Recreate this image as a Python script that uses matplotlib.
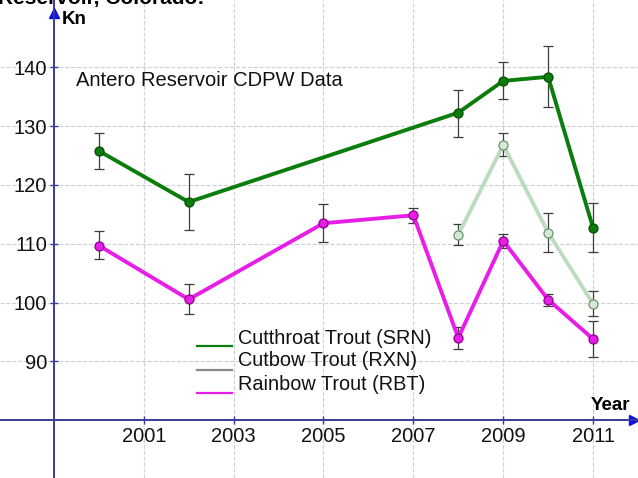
import numpy as np
import matplotlib.pyplot as plt
from matplotlib.lines import Line2D

plt.rcParams['font.family'] = ['Liberation Sans', 'DejaVu Sans']

# Cutthroat Trout (SRN)
years_srn = [2000, 2002, 2008, 2009, 2010, 2011]
kn_srn = [125.8, 117.1, 132.3, 137.7, 138.4, 112.7]
lo_srn = [122.8, 112.3, 128.2, 134.7, 133.3, 108.6]
hi_srn = [128.8, 121.9, 136.1, 140.9, 143.7, 117.0]

# Cutbow Trout (RXN)
years_rxn = [2008, 2009, 2010, 2011]
kn_rxn = [111.55, 126.8, 111.9, 99.8]
lo_rxn = [109.8, 124.9, 108.6, 97.7]
hi_rxn = [113.4, 128.8, 115.2, 101.9]

# Rainbow Trout (RBT)
years_rbt = [2000, 2002, 2005, 2007, 2008, 2009, 2010, 2011]
kn_rbt = [109.7, 100.55, 113.5, 114.85, 94.0, 110.5, 100.5, 93.8]
lo_rbt = [107.4, 98.0, 110.3, 113.5, 92.1, 109.3, 99.4, 90.7]
hi_rbt = [112.1, 103.1, 116.7, 116.1, 95.9, 111.7, 101.5, 96.8]

xticks = [2001, 2003, 2005, 2007, 2009, 2011]
yticks = [90, 100, 110, 120, 130, 140]

series = [
    ('Cutthroat Trout (SRN)', years_srn, kn_srn, lo_srn, hi_srn, '#0b7d0b', '#0b7d0b', '#064d06', '#0b7d0b'),
    ('Cutbow Trout (RXN)', years_rxn, kn_rxn, lo_rxn, hi_rxn, '#bddbbd', '#d4e9d4', '#6f8f6f', '#8a8a8a'),
    ('Rainbow Trout (RBT)', years_rbt, kn_rbt, lo_rbt, hi_rbt, '#e81ee8', '#e81ee8', '#8f008f', '#e81ee8'),
]

fig = plt.figure(figsize=(6.38, 4.78), dpi=100)
ax = fig.add_axes([0, 0, 1, 1])
ax.set_xlim(1997.80, 2012.0)
ax.set_ylim(70.17, 151.46)

axcol = '#3a3a9a'
for s in ['top', 'right']:
    ax.spines[s].set_visible(False)
ax.spines['left'].set_position(('data', 1999))
ax.spines['bottom'].set_position(('data', 80))
for s in ['left', 'bottom']:
    ax.spines[s].set_color(axcol)
    ax.spines[s].set_linewidth(1.4)

ax.set_xticks(xticks)
ax.set_yticks(yticks)
ax.tick_params(direction='inout', length=6, width=1, color=axcol,
               labelsize=14.5, labelcolor='#111111')
ax.tick_params(axis='y', pad=2)
ax.tick_params(axis='x', pad=2)
ax.grid(True, ls='--', color='#cfcfdc', lw=0.8)
ax.set_axisbelow(True)

# arrow heads
ax.plot(1999, 1 - 12.5 / 478, '^', color='#1010e0', ms=7, transform=ax.get_xaxis_transform(), clip_on=False)
ax.plot(1 - 4 / 638, 80, '>', color='#1010e0', ms=7, transform=ax.get_yaxis_transform(), clip_on=False)

for name, x, y, lo, hi, lc, fc, ec, legc in series:
    y = np.array(y)
    yerr = [y - np.array(lo), np.array(hi) - y]
    ax.errorbar(x, y, yerr=yerr, fmt='none', ecolor='#3c3c3c', elinewidth=0.9,
                capsize=3.5, capthick=0.9, zorder=3)
    ax.plot(x, y, '-o', color=lc, lw=2.8, ms=6.5, mfc=fc, mec=ec, mew=0.9, zorder=4)

# legend
leg_y = [346, 370, 393]
txt_y = [338, 361, 384]
for (name, *_, legc), ly, ty in zip(series, leg_y, txt_y):
    fig.add_artist(Line2D([197 / 638, 232 / 638], [1 - ly / 478, 1 - ly / 478], color=legc, lw=1.6))
    fig.text(238 / 638, 1 - ty / 478, name, fontsize=14.3, va='center', ha='left', color='#111111')

fig.text(76 / 638, 1 - 81 / 478, 'Antero Reservoir CDPW Data', fontsize=14.5, va='center', ha='left', color='#111111')
fig.text(62 / 638, 1 - 24 / 478, 'Kn', fontsize=13.5, weight='bold', va='baseline', ha='left')
fig.text(591 / 638, 1 - 410.5 / 478, 'Year', fontsize=13.5, weight='bold', va='baseline', ha='left')
fig.text(-2 / 638, 1 - 4 / 478, 'Reservoir, Colorado:', fontsize=15, weight='bold', va='baseline', ha='left')

fig.savefig('out.png', dpi=100)
